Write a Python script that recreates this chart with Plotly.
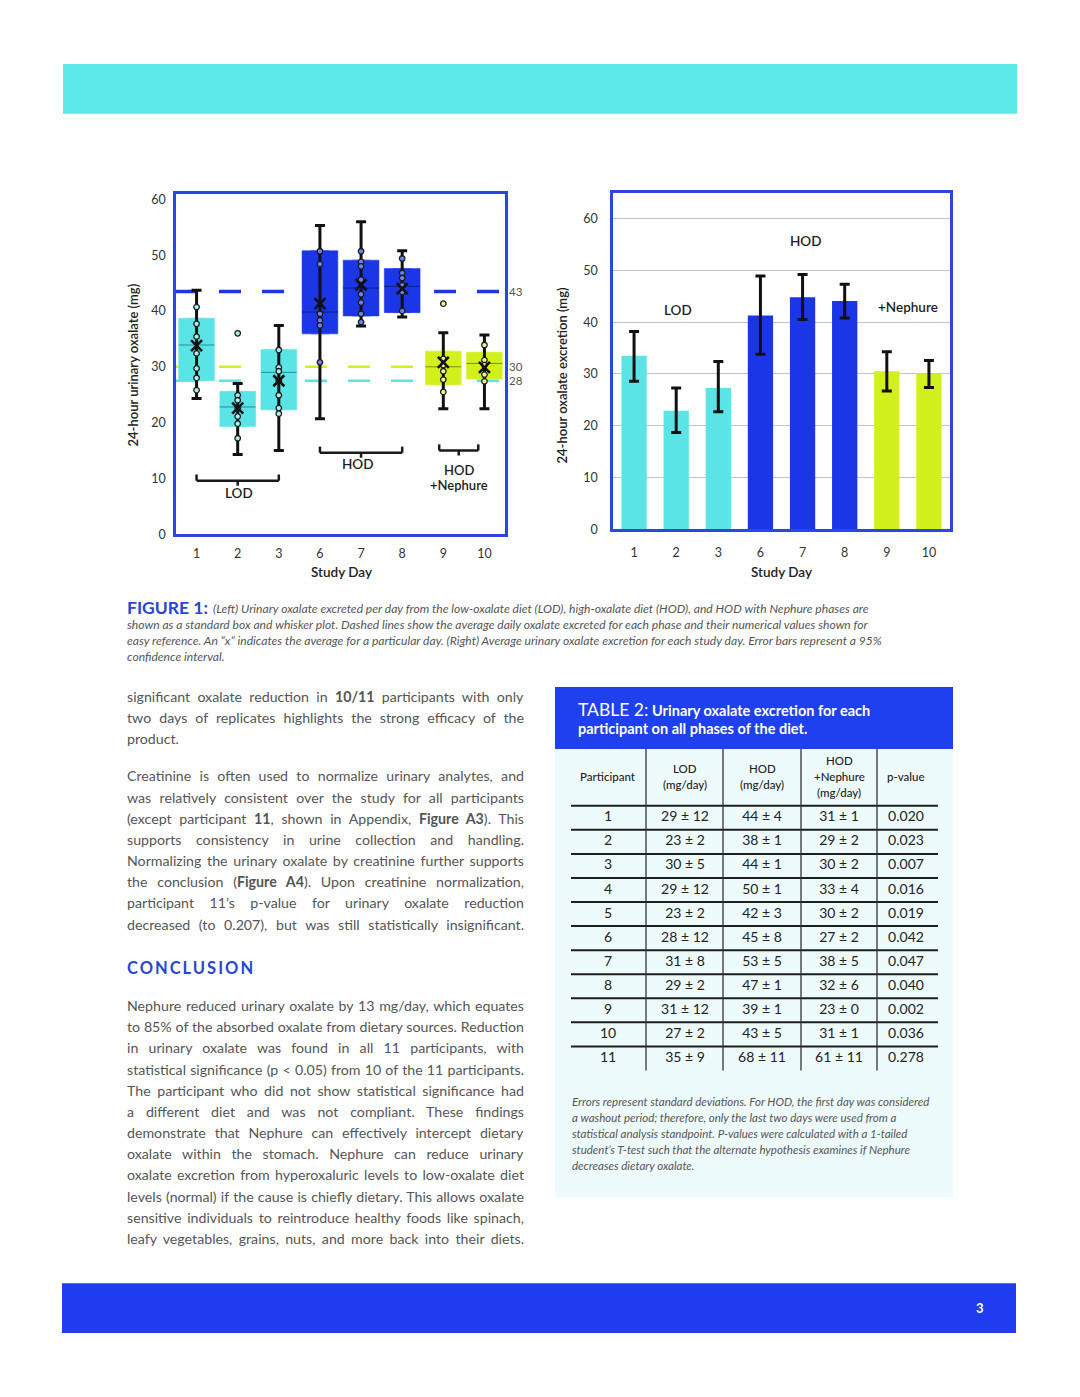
import json
import re
import plotly.graph_objects as go

# ---------------- DATA ----------------
days = ["1", "2", "3", "6", "7", "8", "9", "10"]
day_phase = ["LOD", "LOD", "LOD", "HOD", "HOD", "HOD", "HODN", "HODN"]

# left: box & whisker
box_q1 = [27.5, 19.3, 22.3, 35.9, 39.1, 39.7, 26.8, 27.8]
box_median = [33.9, 22.8, 29.0, 39.8, 44.1, 44.4, 30.0, 30.6]
box_q3 = [38.7, 25.6, 33.1, 50.8, 49.1, 47.6, 32.8, 32.6]
whisker_low = [24.3, 14.3, 15.0, 20.7, 37.3, 38.9, 22.5, 22.5]
whisker_high = [43.7, 27.0, 37.4, 55.3, 56.0, 50.8, 36.1, 35.7]
day_mean = [33.8, 22.6, 27.5, 41.3, 44.7, 44.0, 30.8, 29.9]
day_points = [
    [40.7, 37.7, 35.4, 32.4, 29.7, 28.0, 25.8],
    [24.9, 24.0, 22.6, 21.1, 19.8, 17.2],
    [33.0, 29.9, 29.2, 27.5, 24.9, 22.6, 21.6],
    [50.7, 48.4, 39.5, 38.3, 37.4, 30.8],
    [50.7, 48.8, 48.0, 45.6, 43.0, 41.5, 39.5, 38.0],
    [49.4, 46.8, 45.9, 44.6, 43.4, 40.0],
    [31.4, 30.3, 29.2, 27.7, 25.5],
    [33.9, 31.2, 30.3, 28.6, 27.4],
]
outlier_days = ["2", "9"]
outlier_values = [36.0, 41.3]
phase_avg_phase = ["HOD", "HODN", "LOD"]
phase_avg_values = [43.5, 30.0, 27.5]
phase_avg_labels = ["43", "30", "28"]

# right: bar chart with 95% CI
bar_means = [33.5, 22.9, 27.3, 41.3, 44.8, 44.1, 30.5, 30.1]
ci_high = [38.2, 27.3, 32.4, 48.9, 49.2, 47.3, 34.3, 32.6]
ci_low = [28.6, 18.7, 22.7, 33.8, 40.5, 40.8, 26.7, 27.4]

# table 2
participants = list(range(1, 12))
lod_mean = [29, 23, 30, 29, 23, 28, 31, 29, 31, 27, 35]
lod_sd = [12, 2, 5, 12, 2, 12, 8, 2, 12, 2, 9]
hod_mean = [44, 38, 44, 50, 42, 45, 53, 47, 39, 43, 68]
hod_sd = [4, 1, 1, 1, 3, 8, 5, 1, 1, 5, 11]
hodn_mean = [31, 29, 30, 33, 30, 27, 38, 32, 23, 31, 61]
hodn_sd = [1, 2, 2, 4, 2, 2, 5, 6, 0, 1, 11]
p_values = ["0.020", "0.023", "0.007", "0.016", "0.019", "0.042",
            "0.047", "0.040", "0.002", "0.036", "0.278"]

# ---------------- STYLE ----------------
W, H = 1080, 1397
FIG_H = 1404
FONT = "Lato, 'Open Sans', sans-serif"
phase_color = {"LOD": "#5ae4e6", "HOD": "#1b36e6", "HODN": "#d2f01c"}
phase_median = {"LOD": "#2b8c8f", "HOD": "#0d1f86", "HODN": "#7c8c12"}
phase_fill = {"LOD": "#a8f0f2", "HOD": "#6d84ea", "HODN": "#eaf88a"}
FRAME = "#2a46e6"
BLUE_TXT = "#2945d8"
BODY = "#555555"


def px(x):
    return x / W


def py(y):
    return 1 - y / H


fig = go.Figure()

# ---------- left chart ----------
for ph in ["LOD", "HOD", "HODN"]:
    idx = [i for i, p in enumerate(day_phase) if p == ph]
    fig.add_trace(go.Box(
        x=[days[i] for i in idx],
        q1=[box_q1[i] for i in idx], median=[box_median[i] for i in idx],
        q3=[box_q3[i] for i in idx],
        lowerfence=[box_q1[i] for i in idx], upperfence=[box_q3[i] for i in idx],
        fillcolor=phase_color[ph], line=dict(color=phase_color[ph], width=0.5),
        width=0.87, boxpoints=False, hoverinfo="skip",
        xaxis="x", yaxis="y", showlegend=False))

fig.add_trace(go.Scatter(
    x=days, y=box_median, mode="markers",
    marker=dict(size=1, color="rgba(0,0,0,0)"),
    error_y=dict(type="data", symmetric=False,
                 array=[h - m for h, m in zip(whisker_high, box_median)],
                 arrayminus=[m - l for m, l in zip(box_median, whisker_low)],
                 color="#111111", thickness=3, width=5),
    hoverinfo="skip", xaxis="x", yaxis="y", showlegend=False))

fig.add_trace(go.Scatter(
    x=days, y=box_median, mode="markers",
    marker=dict(symbol="line-ew", size=25.5,
                line=dict(width=1, color=[phase_median[p] for p in day_phase])),
    hoverinfo="skip", xaxis="x", yaxis="y", showlegend=False))

pt_x, pt_y, pt_c = [], [], []
for d, ph, vals in zip(days, day_phase, day_points):
    for v in vals:
        pt_x.append(d)
        pt_y.append(v)
        pt_c.append(phase_fill[ph])
for d, v in zip(outlier_days, outlier_values):
    pt_x.append(d)
    pt_y.append(v)
    pt_c.append(phase_fill[day_phase[days.index(d)]])
fig.add_trace(go.Scatter(
    x=pt_x, y=pt_y, mode="markers",
    marker=dict(symbol="circle", size=5.5, color=pt_c,
                line=dict(width=1.3, color="#1a1a1a")),
    hoverinfo="skip", xaxis="x", yaxis="y", showlegend=False))

fig.add_trace(go.Scatter(
    x=days, y=day_mean, mode="markers",
    marker=dict(symbol="x-thin", size=11, color="#111111",
                line=dict(width=2.6, color="#111111")),
    hoverinfo="skip", xaxis="x", yaxis="y", showlegend=False))

# ---------- right chart ----------
fig.add_trace(go.Bar(
    x=days, y=bar_means, width=0.6,
    marker=dict(color=[phase_color[p] for p in day_phase], line=dict(width=0)),
    error_y=dict(type="data", symmetric=False,
                 array=[h - m for h, m in zip(ci_high, bar_means)],
                 arrayminus=[m - l for m, l in zip(bar_means, ci_low)],
                 color="#111111", thickness=3, width=5),
    hoverinfo="skip", xaxis="x2", yaxis="y2", showlegend=False))

# ---------- table ----------
col_x = [608, 685, 762, 839, 906]
cols = [
    [str(p) for p in participants],
    [f"{m} \u00b1 {s}" for m, s in zip(lod_mean, lod_sd)],
    [f"{m} \u00b1 {s}" for m, s in zip(hod_mean, hod_sd)],
    [f"{m} \u00b1 {s}" for m, s in zip(hodn_mean, hodn_sd)],
    p_values,
]
for cx, texts in zip(col_x, cols):
    fig.add_trace(go.Scatter(
        x=[cx] * len(participants), y=participants, mode="text", text=texts,
        textfont=dict(family=FONT, size=14, color="#222222"),
        hoverinfo="skip", xaxis="x3", yaxis="y3", showlegend=False))

shapes = []
annotations = []


def rect(x0, y0, x1, y1, color):
    shapes.append(dict(type="rect", xref="paper", yref="paper",
                       x0=px(x0), x1=px(x1), y0=py(y1), y1=py(y0),
                       fillcolor=color, line=dict(width=0), layer="below"))


def txt(x, y, s, size=14, color=BODY, xanchor="left", weight="normal", **kw):
    annotations.append(dict(xref="paper", yref="paper", x=px(x), y=py(y),
                            text=s, showarrow=False, xanchor=xanchor,
                            yanchor="middle",
                            font=dict(family=FONT, size=size, color=color,
                                      weight=weight), **kw))


# page bands
rect(63, 62, 1017, 112, "#5ce9ea")
rect(62, 1283, 1016, 1333, "#1f3cf0")
txt(980, 1308, "3", size=13, color="white", xanchor="center", weight="bold")

# table backgrounds
rect(555, 748, 953, 1197, "#eefbfc")
rect(555, 686, 953, 748, "#1f40ee")

# dashed phase averages
for ph, v, lab in zip(phase_avg_phase, phase_avg_values, phase_avg_labels):
    shapes.append(dict(type="line", xref="x domain", yref="y", x0=0, x1=1,
                       y0=v, y1=v, layer="below",
                       line=dict(color=phase_color[ph],
                                 width=3.5 if ph == "HOD" else 2.5,
                                 dash="22px,21px")))
    annotations.append(dict(xref="paper", yref="y", x=px(507), y=v, text=lab,
                            showarrow=False, xanchor="left", yanchor="middle",
                            font=dict(family=FONT, size=11.5, color="#555555")))

# brackets on left chart
brackets = [(0, 2, 9.6), (3, 5, 14.6), (5.9, 6.85, 15.0)]
for x0, x1, yb in brackets:
    xm = (x0 + x1) / 2
    for seg in [(x0, yb, x1, yb), (x0, yb, x0, yb + 1.1), (x1, yb, x1, yb + 1.1),
                (xm, yb, xm, yb - 0.9)]:
        shapes.append(dict(type="line", xref="x", yref="y",
                           x0=seg[0], y0=seg[1], x1=seg[2], y1=seg[3],
                           line=dict(color="#1a1a1a", width=2.5)))

lab_font = dict(size=13.5, color="#1e1e1e", xanchor="center", weight=600)
txt(239, 492, "LOD", **lab_font)
txt(358, 463, "HOD", **lab_font)
txt(459, 469, "HOD", size=13, color="#1e1e1e", xanchor="center", weight=600)
txt(459, 483.5, "+Nephure", size=13, color="#1e1e1e", xanchor="center", weight=600)
txt(678, 308, "LOD", **lab_font)
txt(806, 239, "HOD", **lab_font)
txt(908, 305, "+Nephure", **lab_font)

# axis titles
txt(341, 571, "Study Day", size=13.5, color="#222222", xanchor="center", weight=600)
txt(781, 571, "Study Day", size=13.5, color="#222222", xanchor="center", weight=600)
txt(133, 364, "24-hour urinary oxalate (mg)", size=13, color="#222222",
    xanchor="center", weight=600, textangle=-90)
txt(562, 374, "24-hour oxalate excretion (mg)", size=13, color="#222222",
    xanchor="center", weight=600, textangle=-90)

# figure caption
txt(125, 606, "FIGURE 1:", size=17.5, color=BLUE_TXT, weight="bold")
cap = [
    (211, 607, "<i>(Left) Urinary oxalate excreted per day from the low-oxalate diet (LOD), high-oxalate diet (HOD), and HOD with Nephure phases are</i>"),
    (125, 623, "<i>shown as a standard box and whisker plot. Dashed lines show the average daily oxalate excreted for each phase and their numerical values shown for</i>"),
    (125, 639, "<i>easy reference. An \u201cx\u201d indicates the average for a particular day. (Right) Average urinary oxalate excretion for each study day. Error bars represent a 95%</i>"),
    (125, 655, "<i>confidence interval.</i>"),
]
for x, y, s in cap:
    txt(x, y, s, size=12.1, color="#555555")

# left text column
para1 = [
    "significant oxalate reduction in <b>10/11</b> participants with only",
    "two days of replicates highlights the strong efficacy of the",
    "product.",
]
para2 = [
    "Creatinine is often used to normalize urinary analytes, and",
    "was relatively consistent over the study for all participants",
    "(except participant <b>11</b>, shown in Appendix, <b>Figure A3</b>). This",
    "supports consistency in urine collection and handling.",
    "Normalizing the urinary oxalate by creatinine further supports",
    "the conclusion (<b>Figure A4</b>). Upon creatinine normalization,",
    "participant 11\u2019s p-value for urinary oxalate reduction",
    "decreased (to 0.207), but was still statistically insignificant.",
]
para3 = [
    "Nephure reduced urinary oxalate by 13 mg/day, which equates",
    "to 85% of the absorbed oxalate from dietary sources. Reduction",
    "in urinary oxalate was found in all 11 participants, with",
    "statistical significance (p &lt; 0.05) from 10 of the 11 participants.",
    "The participant who did not show statistical significance had",
    "a different diet and was not compliant. These findings",
    "demonstrate that Nephure can effectively intercept dietary",
    "oxalate within the stomach. Nephure can reduce urinary",
    "oxalate excretion from hyperoxaluric levels to low-oxalate diet",
    "levels (normal) if the cause is chiefly dietary. This allows oxalate",
    "sensitive individuals to reintroduce healthy foods like spinach,",
    "leafy vegetables, grains, nuts, and more back into their diets.",
]
justified = []
for lines, y0 in [(para1, 695), (para2, 775), (para3, 1005)]:
    for i, s in enumerate(lines):
        txt(125, y0 + i * 21.2, s, size=14.2, color=BODY)
        if s != "product.":
            plain = re.sub(r"<[^>]+>", "", s).replace("&lt;", "<")
            justified.append(plain)
txt(125, 967, "<span style='letter-spacing:2px'>CONCLUSION</span>", size=16.5,
    color=BLUE_TXT, weight="bold")

# table header texts
txt(576, 709, "<span style='font-size:17.5px'>TABLE 2:</span> <b>Urinary oxalate excretion for each</b>",
    size=14.5, color="white")
txt(576, 728, "<b>participant on all phases of the diet.</b>", size=14.5, color="white")
hdr = dict(size=11.5, color="#222222", xanchor="center", weight=500)
txt(608, 776, "Participant", **hdr)
txt(685, 768, "LOD", **hdr)
txt(685, 784, "(mg/day)", **hdr)
txt(762, 768, "HOD", **hdr)
txt(762, 784, "(mg/day)", **hdr)
txt(839, 760, "HOD", **hdr)
txt(839, 776, "+Nephure", **hdr)
txt(839, 792, "(mg/day)", **hdr)
txt(906, 776, "p-value", **hdr)

notes = [
    "Errors represent standard deviations. For HOD, the first day was considered",
    "a washout period; therefore, only the last two days were used from a",
    "statistical analysis standpoint. P-values were calculated with a 1-tailed",
    "student\u2019s T-test such that the alternate hypothesis examines if Nephure",
    "decreases dietary oxalate.",
]
for i, s in enumerate(notes):
    txt(570, 1101 + i * 16, "<i>" + s + "</i>", size=11.5, color="#555555")

# table rules
for r in range(0, len(participants)):
    shapes.append(dict(type="line", xref="x3", yref="y3", x0=571, x1=938,
                       y0=r + 0.5, y1=r + 0.5,
                       line=dict(color="#1e1e1e", width=2)))
for vx in [646, 723, 801, 877]:
    shapes.append(dict(type="line", xref="x3", yref="y3", x0=vx, x1=vx,
                       y0=-1.87, y1=len(participants) + 0.5,
                       line=dict(color="#333333", width=1.3)))

tickfont = dict(family=FONT, size=12.5, color="#333333")
axis_common = dict(showline=True, mirror=True, linecolor=FRAME, linewidth=2.5,
                   zeroline=False, ticks="", tickfont=tickfont)

fig.update_layout(
    width=W, height=FIG_H, margin=dict(l=0, r=0, t=0, b=0, pad=0),
    paper_bgcolor="white", plot_bgcolor="rgba(0,0,0,0)",
    showlegend=False, boxmode="overlay", font=dict(family=FONT),
    xaxis=dict(domain=[px(176), px(505)], anchor="y", type="category",
               categoryorder="array", categoryarray=days, range=[-0.5, 7.5],
               showgrid=False, ticklabelstandoff=6, **axis_common),
    yaxis=dict(domain=[py(533), py(192)], anchor="x", range=[0, 61], dtick=10,
               showgrid=False, ticklabelstandoff=5, **axis_common),
    xaxis2=dict(domain=[px(613), px(950)], anchor="y2", type="category",
                categoryorder="array", categoryarray=days, range=[-0.5, 7.5],
                showgrid=False, ticklabelstandoff=10, **axis_common),
    yaxis2=dict(domain=[py(528), py(191)], anchor="x2", range=[0, 65],
                tickvals=[0, 10, 20, 30, 40, 50, 60], showgrid=True,
                gridcolor="#c4c4c4", gridwidth=1, ticklabelstandoff=10,
                **axis_common),
    xaxis3=dict(domain=[px(555), px(953)], anchor="y3", range=[555, 953],
                visible=False),
    yaxis3=dict(domain=[py(1197), py(748)], anchor="x3", range=[16.77, -1.863],
                visible=False),
    shapes=shapes, annotations=annotations,
)

post = (
    "document.documentElement.style.margin='0';"
    "document.documentElement.style.overflow='hidden';"
    "document.body.style.margin='0';"
    "document.body.style.overflow='hidden';"
    "var JUST=" + json.dumps(justified) + ";"
    "var TARGET=397;"
    "document.querySelectorAll('text.annotation-text').forEach(function(el){"
    "  if(JUST.indexOf(el.textContent)<0) return;"
    "  var bb=el.getBBox();"
    "  var n=(el.textContent.match(/ /g)||[]).length;"
    "  if(!n||bb.width>=TARGET) return;"
    "  el.setAttribute('x', bb.x);"
    "  el.setAttribute('text-anchor','start');"
    "  el.querySelectorAll('tspan').forEach(function(t){t.removeAttribute('x');});"
    "  el.style.wordSpacing=((TARGET-bb.width)/n)+'px';"
    "});"
)
fig.write_html("out.html", config={"displayModeBar": False}, post_script=post)
